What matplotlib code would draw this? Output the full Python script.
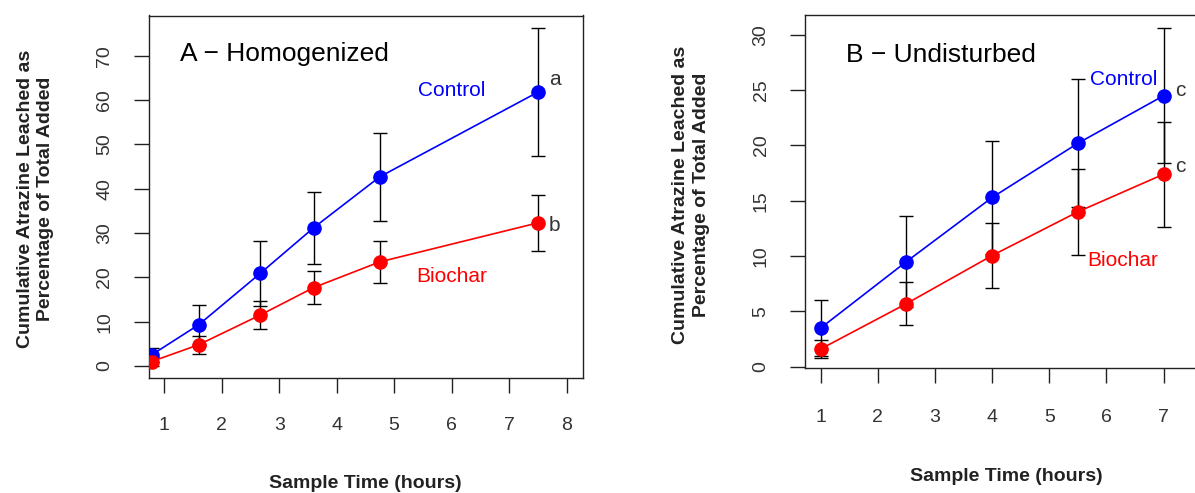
import matplotlib
matplotlib.use("Agg")
import matplotlib.pyplot as plt

plt.rcParams["font.family"] = ["Liberation Sans", "DejaVu Sans"]

# Panel A - homogenized columns
time_a = [0.78, 1.6, 2.67, 3.6, 4.75, 7.5]
control_a = [2.5, 9.3, 20.9, 31.2, 42.7, 61.8]
control_a_err = [1.5, 4.5, 7.3, 8.1, 9.9, 14.4]
biochar_a = [1.0, 4.8, 11.5, 17.7, 23.5, 32.3]
biochar_a_err = [1.0, 2.0, 3.2, 3.8, 4.7, 6.4]
ticks_a_x = [1, 2, 3, 4, 5, 6, 7, 8]
ticks_a_y = [0, 10, 20, 30, 40, 50, 60, 70]

# Panel B - undisturbed columns
time_b = [1, 2.5, 4, 5.5, 7]
control_b = [3.5, 9.5, 15.3, 20.2, 24.5]
control_b_err = [2.5, 4.1, 5.1, 5.8, 6.1]
biochar_b = [1.6, 5.7, 10.05, 14.0, 17.4]
biochar_b_err = [0.8, 1.95, 2.9, 3.9, 4.75]
ticks_b_x = [1, 2, 3, 4, 5, 6, 7]
ticks_b_y = [0, 5, 10, 15, 20, 25, 30]

YLABEL = "Cumulative Atrazine Leached as\nPercentage of Total Added"
XLABEL = "Sample Time (hours)"
INK = "#222222"

W, H = 1195, 493
fig = plt.figure(figsize=(W / 100, H / 100), dpi=100)


def px_axes(left, top, right, bottom):
    return fig.add_axes([left / W, 1 - bottom / H, (right - left) / W, (bottom - top) / H])


def draw_panel(ax, t, ctl, ctl_err, bio, bio_err, xt, yt, xlim, ylim, xpad):
    for y, e in [(ctl, ctl_err), (bio, bio_err)]:
        ax.errorbar(t, y, yerr=e, fmt="none", ecolor="black", elinewidth=1.0,
                    capsize=5.3, capthick=1.0, zorder=2)
    ax.plot(t, ctl, color="#0000FF", lw=1.2, marker="o", ms=9.5, zorder=3)
    ax.plot(t, bio, color="#FF0000", lw=1.2, marker="o", ms=9.5, zorder=3)
    ax.set_xlim(*xlim)
    ax.set_ylim(*ylim)
    ax.set_xticks(xt)
    ax.set_yticks(yt)
    for s in ax.spines.values():
        s.set_color(INK)
        s.set_linewidth(1.0)
    ax.tick_params(axis="both", length=11, width=1.0, color=INK, labelcolor="#333333",
                   labelsize=14)
    ax.tick_params(axis="x", pad=xpad)
    ax.tick_params(axis="y", pad=14.5, labelrotation=90)
    for lab in ax.get_yticklabels():
        lab.set_va("center")


# panel A
ax_a = px_axes(148.5, 15.5, 582.7, 377.7)
draw_panel(ax_a, time_a, control_a, control_a_err, biochar_a, biochar_a_err,
           ticks_a_x, ticks_a_y, (0.727, 8.28), (-2.64, 79.1), 17)
ax_a.text(1.275, 70.4, "A \u2212 Homogenized", fontsize=19, ha="left", va="center")
ax_a.text(6.0, 62.1, "Control", color="#0000FF", fontsize=15, ha="center", va="center")
ax_a.text(6.0, 20.3, "Biochar", color="#FF0000", fontsize=15, ha="center", va="center")
ax_a.text(7.79, 64.6, "a", color="#333333", fontsize=15, ha="center", va="center")
ax_a.text(7.79, 31.8, "b", color="#333333", fontsize=15, ha="center", va="center")

# panel B (its right edge runs past the canvas, as in the source image)
ax_b = px_axes(805, 15, 1207, 368.3)
draw_panel(ax_b, time_b, control_b, control_b_err, biochar_b, biochar_b_err,
           ticks_b_x, ticks_b_y, (0.724, 7.76), (-0.15, 31.8), 18)
ax_b.text(1.45, 28.2, "B \u2212 Undisturbed", fontsize=19, ha="left", va="center")
ax_b.text(6.30, 26.0, "Control", color="#0000FF", fontsize=15, ha="center", va="center")
ax_b.text(6.28, 9.6, "Biochar", color="#FF0000", fontsize=15, ha="center", va="center")
ax_b.text(7.30, 24.95, "c", color="#333333", fontsize=15, ha="center", va="center")
ax_b.text(7.30, 18.1, "c", color="#333333", fontsize=15, ha="center", va="center")

# axis titles
for cx, cy in [(35.5, 199), (691, 195)]:
    fig.text(cx / W, 1 - cy / H, YLABEL, rotation=90, ha="center", va="center",
             fontsize=14, fontweight="bold", color=INK, linespacing=1.25)
for cx, cy in [(365.5, 483), (1006, 476.7)]:
    fig.text(cx / W, 1 - cy / H, XLABEL, ha="center", va="center",
             fontsize=14, fontweight="bold", color=INK)

fig.savefig("out.png", dpi=100)
